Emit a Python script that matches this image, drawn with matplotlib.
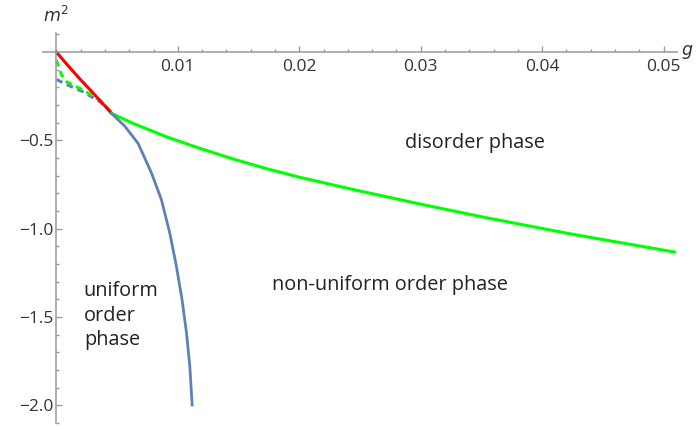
import matplotlib.pyplot as plt
from matplotlib.ticker import MultipleLocator, FixedLocator

# boundary lines (g, m^2)
red_g = [0.0, 0.001, 0.002, 0.003, 0.004, 0.00454]
red_m = [0.0, -0.080, -0.157, -0.230, -0.305, -0.347]

green_g = [0.00454, 0.00632, 0.00907, 0.01181, 0.01455, 0.0173, 0.02004, 0.02443,
           0.02992, 0.03541, 0.042, 0.0447, 0.0509]
green_m = [-0.347, -0.404, -0.480, -0.545, -0.605, -0.660, -0.709, -0.778,
           -0.860, -0.938, -1.025, -1.058, -1.132]

green_dash_g = [0.0, 0.00015, 0.00043, 0.00084, 0.0022, 0.00358, 0.00454]
green_dash_m = [-0.045, -0.074, -0.130, -0.168, -0.215, -0.272, -0.340]

blue_dash_g = [0.0, 0.00111, 0.0022, 0.00358, 0.00454]
blue_dash_m = [-0.155, -0.192, -0.225, -0.281, -0.340]

blue_g = [0.00454, 0.00564, 0.00673, 0.00784, 0.00866, 0.00934, 0.00989, 0.01035, 0.01072,
          0.01099, 0.01118]
blue_m = [-0.347, -0.420, -0.517, -0.686, -0.838, -1.026, -1.215, -1.403, -1.592,
          -1.781, -1.998]

xticks = [0.01, 0.02, 0.03, 0.04, 0.05]
xtick_labels = ["0.01", "0.02", "0.03", "0.04", "0.05"]
yticks = [-0.5, -1.0, -1.5, -2.0]
ytick_labels = ["\u22120.5", "\u22121.0", "\u22121.5", "\u22122.0"]

plt.rcParams['font.family'] = ['Open Sans', 'DejaVu Sans']

fig = plt.figure(figsize=(6.97, 4.29), dpi=100)
ax = fig.add_axes([43 / 697, 1 - 423 / 429, (677 - 43) / 697, (423 - 33) / 429])

blue = '#5E81B5'
ax.plot(blue_dash_g, blue_dash_m, color=blue, lw=2.2, ls=(0, (2.2, 1.6)))
ax.plot(green_dash_g, green_dash_m, color='#00FF00', lw=2.2, ls=(0, (2.2, 1.6)))
ax.plot(red_g, red_m, color='#FF0000', lw=2.2)
ax.plot(green_g, green_m, color='#00FF00', lw=2.2)
ax.plot(blue_g, blue_m, color=blue, lw=2.0)

ax.set_xlim(-0.0011, 0.0511)
ax.set_ylim(-2.1, 0.108)

for s in ['top', 'right']:
    ax.spines[s].set_visible(False)
ax.spines['left'].set_position(('data', 0))
ax.spines['bottom'].set_position(('data', 0))
for s in ['left', 'bottom']:
    ax.spines[s].set_color('#999999')
    ax.spines[s].set_linewidth(1.1)

ax.xaxis.set_major_locator(FixedLocator(xticks))
ax.set_xticklabels(xtick_labels)
ax.xaxis.set_minor_locator(MultipleLocator(0.002))
ax.yaxis.set_major_locator(FixedLocator(yticks))
ax.set_yticklabels(ytick_labels)
ax.yaxis.set_minor_locator(MultipleLocator(0.1))

ax.tick_params(which='both', direction='in', colors='#999999', labelcolor='#333333',
               labelsize=12.5)
ax.tick_params(which='major', length=4.5, width=1.0)
ax.tick_params(which='minor', length=2.2, width=1.0)
ax.tick_params(axis='x', pad=5)
ax.tick_params(axis='y', pad=2)

ax.text(0.0, 0.15, "$m^2$", fontsize=12.5, color='#333333', ha='center', va='bottom')
ax.text(0.0514, 0.0, "$g$", fontsize=12.5, color='#333333', ha='left', va='center')

ax.text(0.02868, -0.515, "disorder phase", fontsize=14.3, color='#222222', va='center')
ax.text(0.01774, -1.318, "non-uniform order phase", fontsize=14.3, color='#222222',
        va='center')
ax.text(0.00226, -1.494, "uniform\norder\nphase", fontsize=14.3, color='#222222',
        linespacing=1.3, va='center')

fig.savefig("out.png", dpi=100)
